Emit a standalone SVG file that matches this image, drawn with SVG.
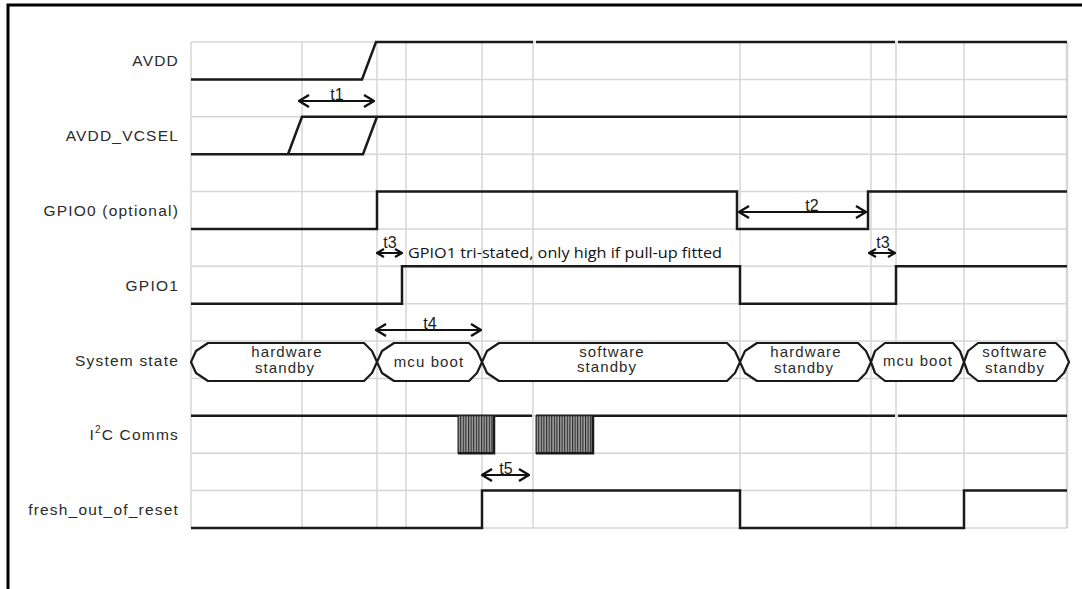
<svg xmlns="http://www.w3.org/2000/svg" width="1082" height="589" viewBox="0 0 1082 589">
<style>
.grid{stroke:#d6d6d6;stroke-width:1.5;fill:none}
.sig{stroke:#1a1a1a;stroke-width:2.5;fill:none;stroke-linejoin:miter}
.lbl{font-family:"Liberation Sans",Arial,sans-serif;font-size:15.5px;letter-spacing:1.2px;fill:#2a2a2a;text-anchor:end}
.st{font-family:"Liberation Sans",Arial,sans-serif;font-size:15px;letter-spacing:1.1px;fill:#2a2a2a;text-anchor:middle}
.tl{font-family:"Liberation Sans",Arial,sans-serif;font-size:16px;fill:#1a1a1a;text-anchor:middle}
.arr{stroke:#111;stroke-width:2.2;fill:none;marker-start:url(#ah);marker-end:url(#ah)}
.arrs{stroke:#111;stroke-width:2;fill:none;marker-start:url(#ahs);marker-end:url(#ahs)}
.bus{stroke:#1a1a1a;stroke-width:2.2;fill:#fff;stroke-linejoin:round}
.i2c{fill:url(#hatch);stroke:#222;stroke-width:1}
.note{font-family:"Open Sans","Noto Sans",sans-serif;font-size:14px;fill:#111}
</style>
<defs>
<marker id="ah" viewBox="0 0 12 14" refX="11" refY="7" markerWidth="12" markerHeight="14" markerUnits="userSpaceOnUse" orient="auto-start-reverse">
<path d="M1,1 L11,7 L1,13" fill="none" stroke="#111" stroke-width="2.4"/>
</marker>
<marker id="ahs" viewBox="0 0 9 10" refX="8" refY="5" markerWidth="9" markerHeight="10" markerUnits="userSpaceOnUse" orient="auto-start-reverse">
<path d="M1,1 L8,5 L1,9" fill="none" stroke="#111" stroke-width="2.2"/>
</marker>
<pattern id="hatch" width="2.6" height="10" patternUnits="userSpaceOnUse">
<rect width="2.6" height="10" fill="#a0a0a0"/>
<rect width="1.1" height="10" fill="#2a2a2a"/>
</pattern>
</defs>
<rect width="1082" height="589" fill="#fff"/>
<path d="M8,589 V5 H1082" fill="none" stroke="#000" stroke-width="3"/>

<g id="grid" class="grid">
<path d="M191,42H1067 M191,79.4H1067 M191,116.8H1067 M191,154.2H1067 M191,191.5H1067 M191,228.9H1067 M191,266.3H1067 M191,303.7H1067 M191,341.1H1067 M191,378.5H1067 M191,415.8H1067 M191,453.2H1067 M191,490.6H1067 M191,528H1067"/>
<path d="M191,42V528 M302,42V528 M377,42V528 M406,42V528 M482,42V528 M533,42V528 M740,42V528 M871,42V528 M896,42V528 M964,42V528"/>
<path d="M1067,42V528" stroke-width="2.5"/>
</g>

<g id="labels">
<text class="lbl" x="179" y="66">AVDD</text>
<text class="lbl" x="179" y="141">AVDD_VCSEL</text>
<text class="lbl" x="179" y="216">GPIO0 (optional)</text>
<text class="lbl" x="179" y="291">GPIO1</text>
<text class="lbl" x="179" y="366">System state</text>
<text class="lbl" x="179" y="440">I<tspan font-size="10" dy="-7">2</tspan><tspan dy="7">C Comms</tspan></text>
<text class="lbl" x="179" y="515">fresh_out_of_reset</text>
</g>

<g id="avdd">
<path class="sig" d="M191,79.4 H362 L376,42 H533 M536,42 H895 M898,42 H1067"/>
</g>
<g id="avdd_vcsel">
<path class="sig" d="M191,154.2 H363 L377,116.8 M288,154.2 L302,116.8 H1067"/>
</g>
<g id="gpio0">
<path class="sig" d="M191,228.9 H377 V191.5 H737 V228.9 H868 V191.5 H1067"/>
</g>
<g id="gpio1">
<path class="sig" d="M191,303.7 H402 V266.3 H740 V303.7 H896 V266.3 H1067"/>
</g>
<g id="note">
<text class="note" x="408" y="258" textLength="314" lengthAdjust="spacingAndGlyphs">GPIO1 tri-stated, only high if pull-up fitted</text>
</g>

<g id="system_state">
<path class="bus" d="M191,362 L196,351 L208,343 H364 L372,351 L377,362 L372,373 L364,381 H208 L196,373 Z"/>
<path class="bus" d="M377,362 L382,351 L394,343 H469 L477,351 L482,362 L477,373 L469,381 H394 L382,373 Z"/>
<path class="bus" d="M482,362 L487,351 L499,343 H727 L735,351 L740,362 L735,373 L727,381 H499 L487,373 Z"/>
<path class="bus" d="M740,362 L745,351 L757,343 H858 L866,351 L871,362 L866,373 L858,381 H757 L745,373 Z"/>
<path class="bus" d="M871,362 L875,351 L885,343 H953 L960,351 L964,362 L960,373 L953,381 H885 L875,373 Z"/>
<path class="bus" d="M964,362 L968,351 L978,343 H1056 L1064,351 L1069,362 L1064,373 L1056,381 H978 L968,373 Z"/>
<text class="st" x="287" y="357">hardware</text>
<text class="st" x="285" y="373">standby</text>
<text class="st" x="429" y="367">mcu boot</text>
<text class="st" x="612" y="357">software</text>
<text class="st" x="607" y="372">standby</text>
<text class="st" x="806" y="357">hardware</text>
<text class="st" x="804" y="373">standby</text>
<text class="st" x="918" y="366" textLength="70" lengthAdjust="spacingAndGlyphs">mcu boot</text>
<text class="st" x="1015" y="357">software</text>
<text class="st" x="1015" y="373">standby</text>
</g>

<g id="i2c">
<path class="sig" d="M191,415.8 H532 M536,415.8 H895 M898,415.8 H1067"/>
<rect class="i2c" x="458" y="415.8" width="36" height="37.4"/>
<path class="sig" d="M494,415.8 V453.2 H458"/>
<rect class="i2c" x="536" y="415.8" width="57" height="37.4"/>
<path class="sig" d="M593,415.8 V453.2 H536"/>
</g>

<g id="fresh_out_of_reset">
<path class="sig" d="M191,528 H482 V490.6 H740 V528 H964 V490.6 H1067"/>
</g>

<g id="connectors">
<path class="arr" d="M299,101 H374"/>
<text class="tl" x="337" y="100">t1</text>
<path class="arr" d="M739,212 H866"/>
<text class="tl" x="812" y="211">t2</text>
<path class="arrs" d="M377,253 H402"/>
<text class="tl" x="390" y="248">t3</text>
<path class="arrs" d="M869,253 H895"/>
<text class="tl" x="883" y="248">t3</text>
<path class="arr" d="M376,330 H481"/>
<text class="tl" x="430" y="329">t4</text>
<path class="arr" d="M482,475 H529"/>
<text class="tl" x="506" y="474">t5</text>
</g>
</svg>
